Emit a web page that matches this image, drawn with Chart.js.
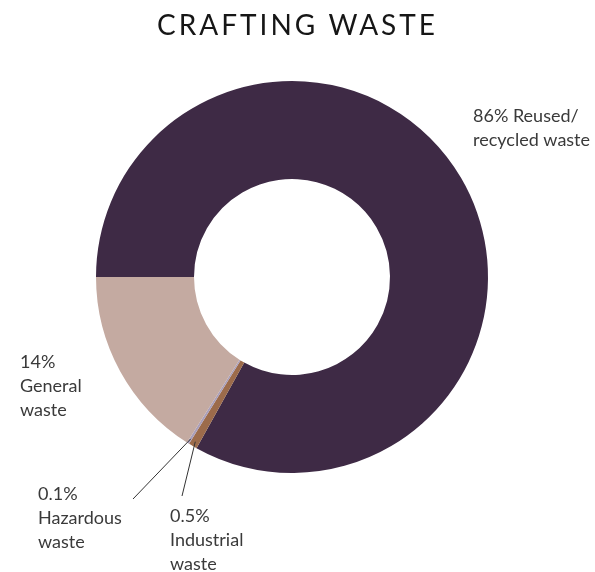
<!DOCTYPE html>
<html>
<head>
<meta charset="utf-8">
<script src="https://cdn.jsdelivr.net/npm/chart.js@4"></script>
<style>
  html, body { margin: 0; padding: 0; background: #ffffff; }
  canvas { display: block; }
</style>
</head>
<body>
<canvas id="c" width="595" height="572"></canvas>
<script>
// ---- data ----
const titleText = 'CRAFTING WASTE';
const categories = ['Reused/recycled waste', 'Industrial waste', 'Hazardous waste', 'General waste'];
// shares as drawn in the picture (angles measured)
const values = [83.1, 0.7, 0.2, 16.0];
const colors = ['#3e2a45', '#9c6b4b', '#aa9fba', '#c4aaa1'];
// label text lines
const labelLines = [
  ['86% Reused/', 'recycled waste'],
  ['0.5%', 'Industrial', 'waste'],
  ['0.1%', 'Hazardous', 'waste'],
  ['14%', 'General', 'waste']
];
const labelAnchors = [ // x, first baseline
  [473, 122],
  [170, 522],
  [38, 500],
  [20, 368]
];
const leaderFrom = [null, [182, 496], [133, 499], null];

const annotations = {
  id: 'annotations',
  afterDraw(chart) {
    const ctx = chart.ctx;
    ctx.save();
    // title
    ctx.fillStyle = '#161616';
    ctx.font = '400 28px Lato';
    ctx.textBaseline = 'alphabetic';
    ctx.textAlign = 'left';
    const target = 278;
    ctx.letterSpacing = '0px';
    const w0 = ctx.measureText(titleText).width;
    const ls = (target - w0) / (titleText.length - 1);
    ctx.letterSpacing = ls + 'px';
    const w = ctx.measureText(titleText).width - ls;
    ctx.fillText(titleText, 296 - w / 2, 35);
    ctx.letterSpacing = '0px';

    // labels
    ctx.fillStyle = '#3a3a3a';
    ctx.font = '18px Lato';
    labelLines.forEach((lines, i) => {
      const [x, y] = labelAnchors[i];
      lines.forEach((t, j) => ctx.fillText(t, x, y + j * 24));
    });

    // leader lines to arc
    const meta = chart.getDatasetMeta(0);
    ctx.strokeStyle = '#333333';
    ctx.lineWidth = 1;
    meta.data.forEach((arc, i) => {
      if (!leaderFrom[i]) return;
      const p = arc.getProps(['x', 'y', 'startAngle', 'endAngle', 'outerRadius'], true);
      const a = (p.startAngle + p.endAngle) / 2;
      const r = p.outerRadius - 5;
      ctx.beginPath();
      ctx.moveTo(leaderFrom[i][0], leaderFrom[i][1]);
      ctx.lineTo(p.x + Math.cos(a) * r, p.y + Math.sin(a) * r);
      ctx.stroke();
    });
    ctx.restore();
  }
};

new Chart(document.getElementById('c'), {
  type: 'doughnut',
  data: {
    labels: categories,
    datasets: [{
      data: values,
      backgroundColor: colors,
      borderWidth: 0,
      hoverOffset: 0
    }]
  },
  options: {
    responsive: false,
    animation: false,
    devicePixelRatio: 1,
    rotation: -90,
    cutout: '50%',
    layout: { padding: { left: 96, right: 107, top: 81, bottom: 99 } },
    plugins: {
      legend: { display: false },
      tooltip: { enabled: false },
      title: { display: false }
    }
  },
  plugins: [annotations]
});
</script>
</body>
</html>
